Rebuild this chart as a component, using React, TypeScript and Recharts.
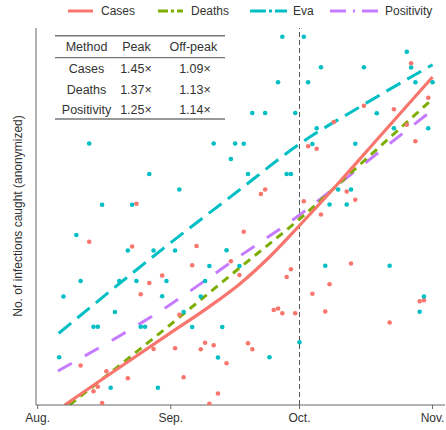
import React from "react"
import { ComposedChart, XAxis, YAxis, Line, Scatter, ReferenceLine } from "recharts"

// x = days since Aug. 1, y = anonymized count
const monthLabels = ["Aug.", "Sep.", "Oct.", "Nov."]
const monthTicks = [0, 31, 61, 92]

const seriesNames = ["Cases", "Deaths", "Eva", "Positivity"]

const tableMethods = ["Cases", "Deaths", "Positivity"]
const tablePeak = ["1.45×", "1.37×", "1.25×"]
const tableOffPeak = ["1.09×", "1.13×", "1.14×"]

const casesDots = [
  [23, 201.3], [12, 163.3], [22, 158.5], [37, 159], [36, 139.7], [45, 143.8], [47, 130],
  [26, 122], [29, 129.5], [24, 110.8], [10, 39.5], [27, 56], [32, 56.7], [16, 33.7],
  [21, 26.8], [13, 13.8], [14, 18.2], [15, 2], [33, 90.3], [34, 27.7], [38, 55.7],
  [39, 62.3], [41, 59.8], [44, 41.7], [42, 11.5], [40, 1.2], [49, 61.7], [50, 55.8],
  [55, 95], [56, 96.5], [57, 91.7], [60, 91.7], [67, 93.5], [82, 82.5], [89, 103.7],
  [90, 104.7], [48, 173.3], [58, 128], [59, 135.8], [64, 111.2], [68, 120.7], [73, 141.5],
  [63, 258.8], [65, 256.2], [52, 211], [53, 215.5], [62, 203.7], [66, 190.5], [72, 213.5],
  [74, 205.2], [69, 283], [76, 299.2], [83, 295.8], [86, 280.2], [88, 263.8], [91, 307.3],
  [87, 341.8],
]

const evaDots = [
  [12, 261.5], [26, 231], [15, 200.3], [22, 200.3], [33, 215.5], [41, 261.5], [46, 261.5],
  [45, 246], [9, 170], [21, 154.5], [27, 154.5], [32, 154.5], [44, 154.7], [40, 139],
  [47, 139], [10, 124], [19, 124], [23, 124], [30, 124], [39, 124], [6, 108.5], [29, 108.7],
  [38, 108.5], [18, 93], [34, 93], [13, 78.3], [14, 78.3], [24, 78.3], [25, 78.3], [36, 78],
  [43, 78], [5, 47.7], [42, 47.5], [54, 47.7], [17, 17.3], [28, 17.3], [61, 62.8],
  [57, 368.3], [62, 368.3], [86, 353.3], [87, 337.5], [66, 337.8], [76, 337.8], [56, 322.7],
  [63, 322.7], [88, 322.7], [92, 322.7], [50, 292], [53, 292], [60, 292], [79, 291.8],
  [48, 261.3], [74, 261.2], [64, 261], [65, 276.8], [83, 276.8], [91, 276.8], [49, 231],
  [58, 231], [59, 231], [70, 215.5], [73, 215.5], [68, 200.5], [72, 200.5], [67, 139.3],
  [82, 139.3], [90, 108.5], [89, 93.2],
]

const casesLine = [
  [6.3, 0], [13, 19.8], [20, 40.3], [31, 72.3], [40, 98.4], [47, 120.8], [54, 148],
  [61, 179.5], [70, 221.5], [80, 270], [92, 328],
]
const deathsLine = [[7.4, 0], [31, 80.7], [46, 133.5], [61, 186], [76, 244], [92, 306]]
const positivityLine = [[4.7, 34], [31, 100.8], [46, 145.7], [61, 190], [76, 241], [92, 295]]
const evaLine = [[4.9, 71.7], [31, 162.4], [46, 211.7], [61, 261], [76, 300.5], [92, 340.3]]

const toPoints = (rows: number[][]) => rows.map(([day, y]) => ({ day, y }))

const COLORS = ["#F8766D", "#7CAE00", "#00BFC4", "#C77CFF"]
const FONT = "'Liberation Sans', Arial, Helvetica, sans-serif"

const legendLayout = [
  { x1: 68, x2: 93, tx: 101, dash: undefined },
  { x1: 158, x2: 183, tx: 191, dash: "10 3 3 3" },
  { x1: 250, x2: 287, tx: 293, dash: "16 3 3 3" },
  { x1: 330, x2: 378, tx: 385, dash: "16 7 2 7" },
]

const dot = (fill: string) => (p: any) => <circle cx={p.cx} cy={p.cy} r={2.3} fill={fill} />

function Overlay() {
  const rowY = [69, 90, 110]
  return (
    <svg
      width={446}
      height={430}
      style={{ position: "absolute", left: 0, top: 0, pointerEvents: "none" }}
      fontFamily={FONT}
    >
      {legendLayout.map((l, i) => (
        <g key={seriesNames[i]}>
          <line x1={l.x1} x2={l.x2} y1={11} y2={11} stroke={COLORS[i]} strokeWidth={3} strokeDasharray={l.dash} />
          <text x={l.tx} y={11} dominantBaseline="central" fontSize={12} fill="#333">
            {seriesNames[i]}
          </text>
        </g>
      ))}

      <line x1={55} x2={225} y1={35.7} y2={35.7} stroke="#777" strokeWidth={1.6} />
      <line x1={55} x2={225} y1={57.7} y2={57.7} stroke="#777" strokeWidth={1.2} />
      <line x1={55} x2={225} y1={119} y2={119} stroke="#777" strokeWidth={1.6} />
      <g fontSize={12.5} fill="#333" textAnchor="middle" dominantBaseline="central">
        <text x={86.5} y={47.3}>Method</text>
        <text x={136.5} y={47.3}>Peak</text>
        <text x={193.3} y={47.3}>Off-peak</text>
        {tableMethods.map((m, i) => (
          <g key={m}>
            <text x={86.5} y={rowY[i]}>{m}</text>
            <text x={136} y={rowY[i]}>{tablePeak[i]}</text>
            <text x={195} y={rowY[i]}>{tableOffPeak[i]}</text>
          </g>
        ))}
      </g>

      <text
        x={22}
        y={216}
        transform="rotate(-90, 22, 216)"
        textAnchor="middle"
        fontSize={12}
        fill="#333"
      >
        No. of infections caught (anonymized)
      </text>
    </svg>
  )
}

export default function App() {
  return (
    <div style={{ position: "absolute", left: 0, top: 0, width: 446, height: 430, background: "#fff" }}>
      <ComposedChart width={446} height={430} margin={{ top: 28, right: 1, bottom: 0, left: 0 }}>
        <XAxis
          type="number"
          dataKey="day"
          domain={[-0.4, 94.9]}
          allowDataOverflow
          ticks={monthTicks}
          tickFormatter={(v) => monthLabels[monthTicks.indexOf(v)] ?? ""}
          height={25}
          tickSize={4}
          tickMargin={4}
          stroke="#666"
          tick={{ fontSize: 12, fill: "#333", fontFamily: FONT }}
        />
        <YAxis
          type="number"
          dataKey="y"
          domain={[0, 377]}
          allowDataOverflow
          width={36}
          tick={false}
          tickLine={false}
          stroke="#666"
        />
        <ReferenceLine x={61} stroke="#555" strokeDasharray="5 3" strokeWidth={1} />
        <Scatter data={toPoints(casesDots)} dataKey="y" shape={dot(COLORS[0])} isAnimationActive={false} />
        <Scatter data={toPoints(evaDots)} dataKey="y" shape={dot(COLORS[2])} isAnimationActive={false} />
        <Line data={toPoints(evaLine)} dataKey="y" type="monotone" stroke={COLORS[2]} strokeWidth={3}
          strokeDasharray="16 8" dot={false} isAnimationActive={false} />
        <Line data={toPoints(positivityLine)} dataKey="y" type="monotone" stroke={COLORS[3]} strokeWidth={3}
          strokeDasharray="16 15" dot={false} isAnimationActive={false} />
        <Line data={toPoints(deathsLine)} dataKey="y" type="monotone" stroke={COLORS[1]} strokeWidth={3}
          strokeDasharray="8 6" dot={false} isAnimationActive={false} />
        <Line data={toPoints(casesLine)} dataKey="y" type="monotone" stroke={COLORS[0]} strokeWidth={3.2}
          dot={false} isAnimationActive={false} />
      </ComposedChart>
      <Overlay />
    </div>
  )
}
